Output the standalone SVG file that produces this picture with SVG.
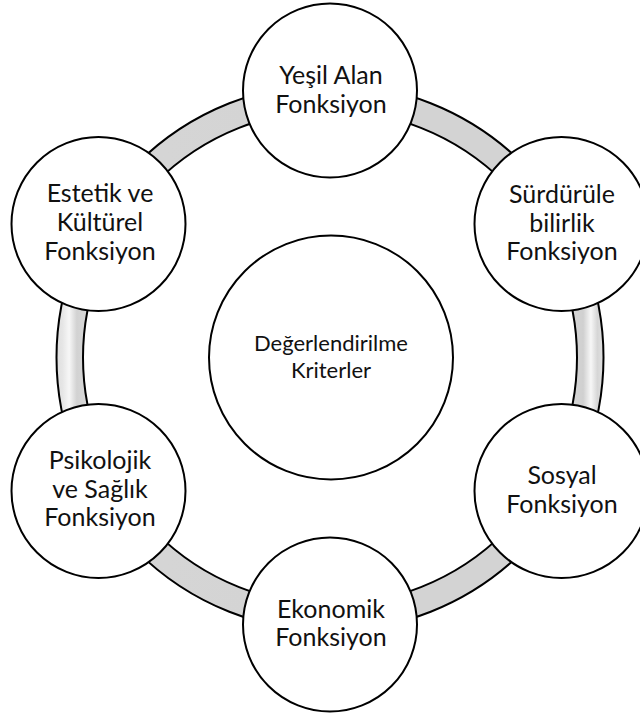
<svg xmlns="http://www.w3.org/2000/svg" width="640" height="713" viewBox="0 0 640 713">
  <defs>
    <linearGradient id="bandGrad" gradientUnits="userSpaceOnUse" x1="56" y1="0" x2="604" y2="0">
      <stop offset="0" stop-color="#dedede"/>
      <stop offset="0.012" stop-color="#e6e6e6"/>
      <stop offset="0.024" stop-color="#f7f7f7"/>
      <stop offset="0.038" stop-color="#d2d2d2"/>
      <stop offset="0.05" stop-color="#d6d6d6"/>
      <stop offset="0.5" stop-color="#d3d3d3"/>
      <stop offset="0.95" stop-color="#d3d3d3"/>
      <stop offset="0.962" stop-color="#d0d0d0"/>
      <stop offset="0.976" stop-color="#f7f7f7"/>
      <stop offset="0.988" stop-color="#d6d6d6"/>
      <stop offset="1" stop-color="#e2e2e2"/>
    </linearGradient>
  </defs>
  <style>
    .node circle { fill: #ffffff; stroke: #000000; stroke-width: 2; }
    .node text { font-family: "Lato", "Liberation Sans", sans-serif; font-size: 25px; fill: #111111; text-anchor: middle; }
    .center text { font-size: 22px; }
    .ring { fill: url(#bandGrad); stroke: #000000; stroke-width: 2; fill-rule: evenodd; }
  </style>
  <rect x="0" y="0" width="640" height="713" fill="#ffffff"/>
  <g id="connectors">
    <path class="ring" d="M 603.5 357.5 A 273.5 273.5 0 1 0 56.5 357.5 A 273.5 273.5 0 1 0 603.5 357.5 Z M 577 357.5 A 247 247 0 1 1 83 357.5 A 247 247 0 1 1 577 357.5 Z"/>
  </g>
  <g id="node-center" class="node center">
    <circle cx="331" cy="357.5" r="122"/>
    <text x="331" y="351">Değerlendirilme</text>
    <text x="331" y="378">Kriterler</text>
  </g>
  <g id="node-yesil" class="node">
    <circle cx="330" cy="90.5" r="87"/>
    <text x="331" y="84">Yeşil Alan</text>
    <text x="331" y="113">Fonksiyon</text>
  </g>
  <g id="node-surdurulebilirlik" class="node">
    <circle cx="561.5" cy="224" r="87"/>
    <text x="562" y="202.5">Sürdürüle</text>
    <text x="562" y="231.5">bilirlik</text>
    <text x="562" y="260">Fonksiyon</text>
  </g>
  <g id="node-sosyal" class="node">
    <circle cx="561.5" cy="491" r="87"/>
    <text x="562" y="483.5">Sosyal</text>
    <text x="562" y="512.5">Fonksiyon</text>
  </g>
  <g id="node-ekonomik" class="node">
    <circle cx="330" cy="624.5" r="87"/>
    <text x="331" y="617.5">Ekonomik</text>
    <text x="331" y="646">Fonksiyon</text>
  </g>
  <g id="node-psikolojik" class="node">
    <circle cx="98.5" cy="491" r="87"/>
    <text x="100" y="468.5">Psikolojik</text>
    <text x="100" y="497.5">ve Sağlık</text>
    <text x="100" y="526">Fonksiyon</text>
  </g>
  <g id="node-estetik" class="node">
    <circle cx="98.5" cy="224" r="87"/>
    <text x="100" y="202">Estetik ve</text>
    <text x="100" y="231">Kültürel</text>
    <text x="100" y="259.5">Fonksiyon</text>
  </g>
</svg>
